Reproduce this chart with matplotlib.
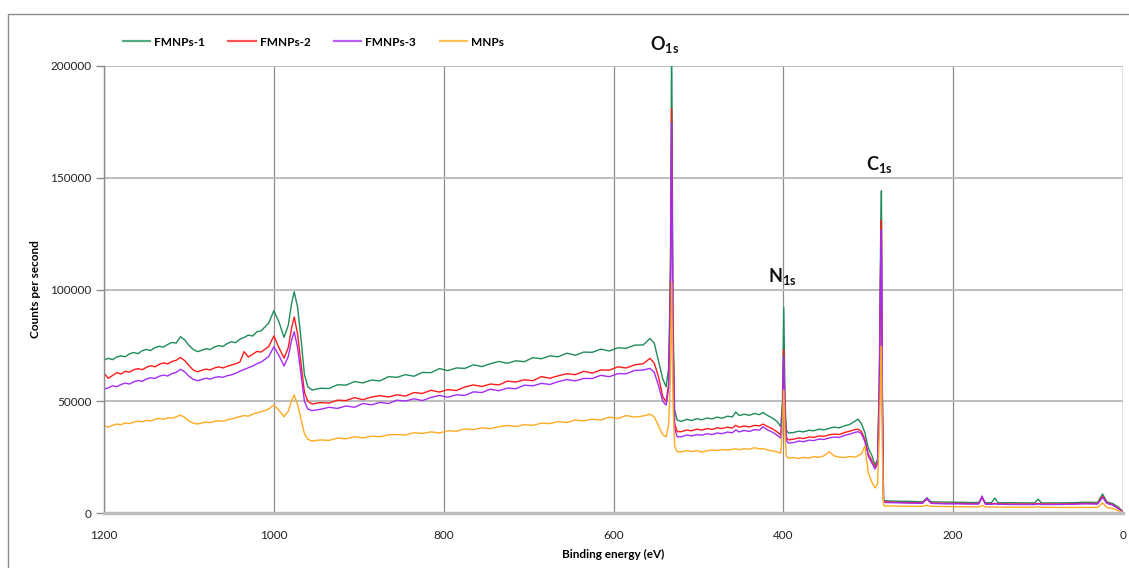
import matplotlib
matplotlib.use("Agg")
import matplotlib.pyplot as plt
from matplotlib.patches import Rectangle

# Binding energy (eV), shared by all series
energy = [
    1200, 1195, 1190, 1185, 1180, 1175, 1170, 1165, 1160, 1155, 1150, 1145, 1140, 1135, 1130, 1125, 1120, 1115, 1110, 1105,
    1100, 1095, 1090, 1085, 1080, 1075, 1070, 1065, 1060, 1055, 1050, 1045, 1040, 1035, 1030, 1025, 1020, 1015,
    1006, 1000, 994, 988, 983, 979, 976, 972, 968, 964, 960, 955,
    945, 935, 925, 915, 905, 895, 885, 875, 865, 855, 845, 835, 825, 815, 805, 795, 785, 775, 765, 755,
    745, 735, 725, 715, 705, 695, 685, 675, 665, 655, 645, 635, 625, 615, 605, 595, 585, 575, 565,
    557, 552, 547, 542, 538, 535, 533, 531.5, 530, 528, 525,
    520, 514, 508, 502, 496, 490, 484, 478, 472, 466, 460, 456, 452, 446, 440, 434, 428, 424, 418, 412, 407, 403,
    401, 399.5, 398, 396.5, 394,
    388, 382, 376, 370, 364, 358, 352, 346, 340, 334, 328, 322, 316, 312, 308, 304, 300,
    296, 292, 289, 287, 285.5, 284.5, 283.5, 282, 280,
    270, 250, 236, 231, 226, 210, 195, 180, 170, 166, 162, 155, 151, 147, 130, 115, 104, 100, 96, 80, 60, 45, 30, 24, 19, 12, 5, 0,
]

fmnps1 = [
    68400, 69200, 68600, 69800, 70300, 69900, 71200, 71800, 71300, 72600, 73200, 72700, 74000, 74600, 74200, 75400, 76300, 76000, 78900, 77500,
    75000, 73200, 72200, 72800, 73500, 73100, 74300, 74900, 74500, 75800, 76600, 76200, 77800, 78500, 79600, 79200, 81000, 81500,
    85000, 90500, 85500, 78600, 84000, 94000, 99000, 92000, 78000, 62000, 56500, 55000,
    55800, 55700, 57400, 57200, 58800, 58200, 59500, 59100, 61000, 60700, 61900, 61200, 62900, 62800, 64600, 63700, 64900, 64700, 66300, 65500,
    66800, 67800, 67000, 68100, 67700, 69500, 69000, 70300, 69900, 71500, 70600, 72000, 71900, 73300, 72500, 73900, 73700, 75100, 75200,
    78100, 76000, 68000, 60000, 56500, 65000, 110000, 215000, 90000, 46000, 41600,
    41000, 41900, 41400, 42200, 41700, 42500, 42100, 42900, 42400, 43300, 43000, 45200, 43600, 44200, 43700, 44500, 44000, 45000, 43500, 42300, 40800, 38600,
    50000, 91900, 50000, 37000, 35800,
    36000, 36600, 36300, 37000, 36800, 37500, 37200, 37900, 38400, 38100, 39000, 39600, 41000, 42000, 40000, 36000, 29000,
    26000, 21400, 24000, 60000, 120000, 144200, 60000, 6000, 5500,
    5300, 5200, 5000, 6700, 5000, 4900, 4800, 4700, 4700, 7000, 4600, 4600, 6700, 4600, 4600, 4500, 4500, 6200, 4500, 4500, 4600, 4800, 4700, 8500, 5000, 4200, 2500, 500,
]

fmnps2 = [
    62500, 60300, 61500, 62800, 62200, 63400, 63000, 64100, 64600, 64100, 65200, 65900, 65400, 66500, 67200, 66700, 67800, 68300, 69600, 68200,
    66000, 64000, 63200, 63800, 64400, 64000, 64900, 65400, 64900, 65600, 66200, 66800, 67500, 72200, 69800, 71000, 72300, 72000,
    74500, 79200, 74000, 69300, 74000, 83000, 87700, 80000, 67000, 54000, 50000, 48800,
    49400, 49200, 50500, 50300, 51600, 50700, 51900, 52500, 51900, 52900, 52300, 53900, 53500, 54900, 54100, 55200, 54800, 56400, 57300, 56600,
    57700, 57300, 59000, 58600, 59600, 59200, 61000, 60300, 61400, 62300, 61900, 63400, 62600, 64000, 63900, 65400, 64900, 66300, 66800,
    69200, 67000, 61000, 52000, 49800, 58000, 100000, 181000, 80000, 40000, 36400,
    36400, 37100, 36800, 37500, 37100, 37800, 37400, 38100, 37800, 38400, 38000, 39200, 38400, 38900, 38500, 39200, 39000, 39800, 38600, 37500, 36200, 34900,
    45000, 73000, 45000, 34000, 32700,
    33000, 33600, 33300, 34000, 33800, 34500, 34300, 35000, 35300, 35100, 36000, 36600, 37300, 37500, 36500, 33000, 26500,
    23500, 20100, 23000, 55000, 110000, 131000, 55000, 5500, 5000,
    4800, 4600, 4500, 6200, 4500, 4300, 4300, 4200, 4200, 6800, 4100, 4100, 4300, 4100, 4000, 4000, 4000, 4300, 4000, 4000, 4100, 4300, 4200, 7500, 4500, 3700, 2000, 400,
]

fmnps3 = [
    55300, 56000, 56900, 56500, 57500, 58100, 57700, 58700, 59300, 58900, 60000, 60500, 60200, 61200, 61700, 61300, 62400, 62900, 64300, 63200,
    61200, 59800, 59200, 59700, 60300, 59900, 60600, 61000, 60700, 61400, 61800, 62500, 63400, 64200, 65000, 65700, 66800, 67500,
    70000, 74400, 70500, 65800, 70000, 77500, 81100, 74000, 62000, 50000, 46500, 45800,
    46400, 47300, 46800, 47900, 47300, 49000, 48400, 49500, 49000, 50500, 50100, 51100, 50300, 51700, 52600, 51800, 52900, 52600, 54200, 53900,
    55400, 54700, 55900, 55600, 57200, 56900, 58000, 57500, 58800, 59700, 59100, 60200, 60200, 61600, 61000, 62300, 62300, 63800, 64000,
    64700, 63000, 57000, 50000, 48300, 56000, 95000, 174500, 78000, 38000, 34100,
    34100, 34900, 34500, 35100, 34800, 35500, 35100, 35800, 35500, 36200, 35900, 37200, 36300, 36900, 36500, 37300, 37100, 38600, 37100, 36000, 34700, 33500,
    44000, 70000, 43000, 32500, 31300,
    31500, 32200, 31900, 32600, 32400, 33100, 32900, 33600, 34000, 33800, 34700, 35300, 36000, 36400, 35500, 32000, 25500,
    22500, 19700, 22000, 52000, 105000, 126600, 52000, 5200, 4700,
    4600, 4400, 4300, 6700, 4300, 4100, 4100, 4000, 4000, 7600, 3900, 3900, 4100, 3900, 3800, 3800, 3800, 4000, 3800, 3800, 3900, 4100, 4000, 7000, 4300, 3500, 1800, 400,
]

mnps = [
    39100, 38400, 39200, 39800, 39500, 40300, 40000, 40700, 41100, 40800, 41500, 41200, 41900, 42300, 41900, 42600, 42400, 43000, 43800, 42800,
    41200, 40200, 39800, 40300, 40700, 40400, 41000, 41300, 41000, 41700, 42100, 42600, 43100, 43600, 43300, 44200, 44800, 45300,
    46500, 48300, 46000, 43100, 45500, 50500, 52800, 48500, 42000, 35500, 33000, 32200,
    32700, 32500, 33500, 33200, 34100, 33600, 34400, 34100, 35000, 35100, 34900, 35900, 35600, 36300, 35800, 36800, 36600, 37600, 37300, 38100,
    37700, 38600, 39200, 38700, 39500, 39200, 40200, 40000, 40900, 40500, 41600, 41200, 42000, 41600, 42900, 42300, 43600, 42900, 43400,
    44200, 43000, 39000, 35000, 34100, 40000, 60000, 103300, 50000, 30000, 27400,
    27400, 27900, 27500, 27900, 27300, 27800, 28200, 27900, 28400, 28100, 28500, 28700, 28300, 28800, 28500, 29200, 28700, 28800, 28200, 27700, 27300, 26800,
    38000, 55000, 35000, 25500, 24600,
    24800, 24400, 24900, 24600, 25200, 24900, 25600, 27400, 25500, 25000, 24800, 25300, 25000, 25600, 26500, 30000, 18000,
    14000, 11200, 13000, 35000, 60000, 74400, 30000, 3500, 3100,
    3100, 3000, 3000, 3500, 3000, 2900, 2800, 2800, 2700, 3300, 2700, 2700, 2700, 2600, 2600, 2600, 2600, 2800, 2600, 2500, 2500, 2500, 2500, 4500, 2500, 2000, 1000, 200,
]

series_names = ["FMNPs-1", "FMNPs-2", "FMNPs-3", "MNPs"]
series_values = [fmnps1, fmnps2, fmnps3, mnps]
series_colors = ["#1E8C5A", "#FF1A1A", "#A52CF5", "#FFAA22"]

x_ticks = [1200, 1000, 800, 600, 400, 200, 0]
y_ticks = [0, 50000, 100000, 150000, 200000]

peak_labels = ["O", "N", "C"]
peak_pos = [(557, 207000), (418, 103300), (302.7, 153300)]

for v in series_values:
    assert len(v) == len(energy), (len(v), len(energy))

plt.rcParams['font.family'] = ['Lato', 'DejaVu Sans']
plt.rcParams['mathtext.fontset'] = 'custom'
plt.rcParams['mathtext.rm'] = 'Lato:bold'
plt.rcParams['mathtext.bf'] = 'Lato:bold'

W, H = 1129, 568
fig = plt.figure(figsize=(W / 100, H / 100), dpi=100)
ax = fig.add_axes([104 / W, 1 - 513 / H, (1123 - 104) / W, (513 - 66) / H])

# outer border
fig.patches.append(Rectangle((8 / W, -0.01), 1.02, (568 - 14) / H + 0.01,
                             transform=fig.transFigure, fill=False,
                             edgecolor="#8C8C8C", linewidth=1.0))

for name, vals, col in zip(series_names, series_values, series_colors):
    ax.plot(energy, vals, color=col, linewidth=1.0, label=name)

ax.set_xlim(1200, 0)
ax.set_ylim(0, 200000)
ax.set_xticks(x_ticks)
ax.set_xticklabels([str(t) for t in x_ticks])
ax.set_yticks(y_ticks)
ax.set_yticklabels([str(t) for t in y_ticks])

for s in ["top", "right"]:
    ax.spines[s].set_visible(False)
ax.spines["left"].set_color("#8C8C8C")
ax.spines["left"].set_linewidth(1.0)
ax.spines["bottom"].set_color("#BDBDBD")
ax.spines["bottom"].set_linewidth(2.5)

ax.grid(axis="x", color="#8C8C8C", linewidth=0.9)
ax.grid(axis="y", color="#BDBDBD", linewidth=1.4)
ax.set_axisbelow(True)
ax.axvline(0, color="#8C8C8C", linewidth=0.9, zorder=0.5)

ax.tick_params(axis="x", length=0, pad=12, labelsize=8.5, colors="#222222")
ax.tick_params(axis="y", length=6, width=1.0, color="#8C8C8C", pad=3,
               labelsize=8.5, labelcolor="#222222")

ax.set_xlabel("Binding energy (eV)", fontsize=8.5, fontweight="bold", labelpad=6)
ax.set_ylabel("Counts per second", fontsize=8.5, fontweight="bold", labelpad=7)

for lab, (xe, yv) in zip(peak_labels, peak_pos):
    ax.text(xe, yv, r"$\mathbf{%s}_{\mathbf{1s}}$" % lab, fontsize=13,
            ha="left", va="baseline", clip_on=False, color="#111111")

leg = fig.legend(loc="center left", bbox_to_anchor=(112 / W, 1 - 42 / H),
                 ncol=4, frameon=False, handlelength=2.3, handletextpad=0.35,
                 columnspacing=2.0, prop={"size": 8.5, "weight": "bold"})
for line in leg.get_lines():
    line.set_linewidth(1.6)
    line.set_alpha(0.75)

fig.savefig("out.png", dpi=100)
